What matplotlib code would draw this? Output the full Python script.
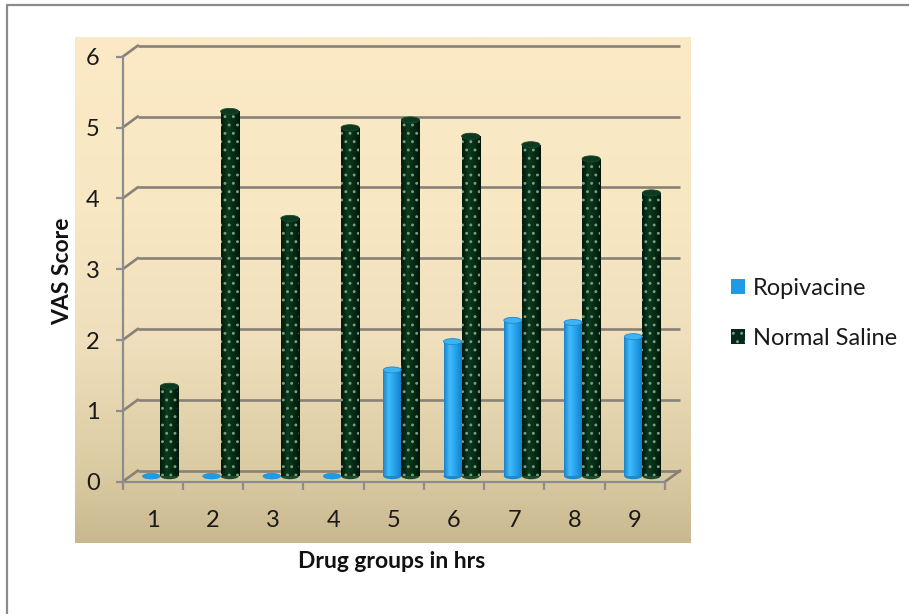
import numpy as np
import matplotlib
matplotlib.use("Agg")
import matplotlib.pyplot as plt
from matplotlib.patches import Ellipse, Patch
from matplotlib.lines import Line2D
from matplotlib.colors import to_rgb

# ---- data -------------------------------------------------------------
hours = ["1", "2", "3", "4", "5", "6", "7", "8", "9"]
ropivacine = [0.0, 0.0, 0.0, 0.0, 1.50, 1.90, 2.20, 2.17, 1.97]
normal_saline = [1.27, 5.15, 3.64, 4.92, 5.03, 4.80, 4.68, 4.48, 4.00]
y_ticks = [0, 1, 2, 3, 4, 5, 6]
series_names = ["Ropivacine", "Normal Saline"]

# ---- figure setup -----------------------------------------------------
W, H, DPI = 909, 614, 100
plt.rcParams['font.family'] = ['Lato', 'DejaVu Sans']
plt.rcParams['hatch.linewidth'] = 0.9

fig = plt.figure(figsize=(W / DPI, H / DPI), dpi=DPI)
fig.patch.set_facecolor('white')


def px_rect(x0, y0, x1, y1):
    """Pixel box measured from the top-left corner -> figure fraction rect."""
    return [x0 / W, 1 - y1 / H, (x1 - x0) / W, (y1 - y0) / H]


# outer frame: left and top edges
fig.add_artist(Line2D([7 / W, 7 / W, 1.0], [0.0, 1 - 5 / H, 1 - 5 / H],
                      transform=fig.transFigure, color='#8a8a8a', lw=1.6))

# plot-area background: vertical parchment gradient
bg = fig.add_axes(px_rect(75, 37, 691, 543), zorder=0)
stops = [(0.00, (252, 234, 198)), (0.35, (248, 231, 195)),
         (0.60, (239, 223, 188)), (0.85, (220, 204, 164)),
         (1.00, (201, 184, 143))]
t = np.linspace(0, 1, 256)
grad = np.stack([np.interp(t, [s[0] for s in stops], [s[1][c] for s in stops])
                 for c in range(3)], axis=-1) / 255.0
bg.imshow(grad[:, None, :], aspect='auto', extent=(0, 1, 0, 1))
bg.set_axis_off()

# ---- main axes (front plane of the 3-D box) ---------------------------
ax = fig.add_axes(px_rect(122.7, 56.7, 665, 481.7), zorder=2)
ax.patch.set_alpha(0)
xmin, xmax, ymin, ymax = 0.5, 9.5, 0, 6

axis_gray = '#8d8d8d'
grid_gray = '#878177'
for side in ('top', 'right'):
    ax.spines[side].set_visible(False)
for side in ('left', 'bottom'):
    ax.spines[side].set_color(axis_gray)
    ax.spines[side].set_linewidth(1.6)
    ax.spines[side].set_zorder(1.5)

ax.set_yticks(y_ticks)
ax.set_yticklabels([str(v) for v in y_ticks])
ax.tick_params(axis='y', direction='out', length=5, width=1.6, color=axis_gray,
               labelsize=17, pad=11.5, labelcolor='#1a1a1a')

cats = np.arange(1, len(hours) + 1)
ax.set_xticks(np.arange(xmin, xmax + 0.01, 1.0))
ax.set_xticklabels([])
ax.set_xticks(cats, minor=True)
ax.set_xticklabels(hours, minor=True)
ax.tick_params(axis='x', which='major', direction='out', length=5.5, width=1.6,
               color=axis_gray)
ax.tick_params(axis='x', which='minor', length=0, labelsize=17, pad=20.5,
               labelcolor='#1a1a1a')

# depth offsets (pixels -> data units)
ax_w_px = (665 - 122.7)
ax_h_px = (481.7 - 56.7)
dx = 15.0 / (ax_w_px / (xmax - xmin))
dy = 11.0 / (ax_h_px / (ymax - ymin))

# back wall gridlines with the receding diagonals from the value axis
for v in y_ticks:
    ax.plot([xmin + dx, xmax + dx], [v + dy, v + dy], color=grid_gray, lw=1.9,
            clip_on=False, zorder=1, solid_capstyle='butt')
    ax.plot([xmin, xmin + dx], [v, v + dy], color=grid_gray, lw=1.9,
            clip_on=False, zorder=1)
# right edge of the floor
ax.plot([xmax, xmax + dx], [0, dy], color=grid_gray, lw=1.9, clip_on=False, zorder=1)

# ---- cylinder bars ----------------------------------------------------
bw = 0.30
mdx, mdy = dx / 2, dy / 2          # bars stand at mid depth
cap_h = 6.0 / (ax_h_px / (ymax - ymin))


def shade(stops_rgb):
    s = np.linspace(0, 1, 64)
    pos = [p for p, _ in stops_rgb]
    arr = np.stack([np.interp(s, pos, [to_rgb(c)[k] for _, c in stops_rgb])
                    for k in range(3)], axis=-1)
    return arr[None, :, :]


blue_shade = shade([(0.0, '#1784cc'), (0.3, '#45bbf8'), (0.6, '#23a4ee'),
                    (1.0, '#157ac2')])
green_shade = shade([(0.0, '#02180a'), (0.35, '#0d3a1e'), (0.7, '#062a14'),
                     (1.0, '#021409')])

styles = [
    dict(values=ropivacine, off=-bw / 2, img=blue_shade, base='#1e9be3',
         cap='#3fb3f2', rim='#1a8ad0', hatch=None, dot='none'),
    dict(values=normal_saline, off=bw / 2, img=green_shade, base='#06281a',
         cap='#0b3a20', rim='#1c4a2c', hatch='..', dot='#75a083'),
]

for st in styles:
    xs = cats + mdx + st['off']
    vals = np.asarray(st['values'], dtype=float)
    bars = ax.bar(xs, vals, width=bw, bottom=mdy, facecolor='none',
                  edgecolor=st['dot'], linewidth=0, hatch=st['hatch'],
                  zorder=4, clip_on=False)
    for x, v, b in zip(xs, vals, bars):
        # rounded bottom
        ax.add_patch(Ellipse((x, mdy), bw, cap_h, facecolor=st['rim'],
                             edgecolor='none', zorder=2.9, clip_on=False))
        if v > 0:
            im = ax.imshow(st['img'], extent=(x - bw / 2, x + bw / 2, mdy, mdy + v),
                           aspect='auto', zorder=3, interpolation='bilinear')
            im.set_clip_path(b)
            # top face
            ax.add_patch(Ellipse((x, mdy + v), bw, cap_h, facecolor=st['cap'],
                                 edgecolor=st['rim'], lw=0.6, zorder=5,
                                 clip_on=False))
        else:
            ax.add_patch(Ellipse((x, mdy), bw, cap_h, facecolor=st['base'],
                                 edgecolor='none', zorder=3, clip_on=False))

ax.set_xlim(xmin, xmax)
ax.set_ylim(ymin, ymax)

# ---- titles and legend ------------------------------------------------
fig.text(63 / W, 1 - 271 / H, 'VAS Score', rotation=90, ha='center', va='center',
         fontsize=16.5, fontweight='bold', color='#111111')
fig.text(392 / W, 1 - 562 / H, 'Drug groups in hrs', ha='center', va='center',
         fontsize=16.5, fontweight='bold', color='#111111')

handles = [Patch(facecolor='#1e9be3', edgecolor='none'),
           Patch(facecolor='#06281a', edgecolor='#75a083', linewidth=0, hatch='..')]
fig.legend(handles, series_names, loc='upper left',
           bbox_to_anchor=(731 / W, 1 - 278 / H), bbox_transform=fig.transFigure,
           frameon=False, fontsize=17, borderpad=0, borderaxespad=0,
           handlelength=0.58, handleheight=0.62, handletextpad=0.35,
           labelspacing=1.22, labelcolor='#1a1a1a')

fig.savefig('out.png', dpi=DPI, facecolor='white')
